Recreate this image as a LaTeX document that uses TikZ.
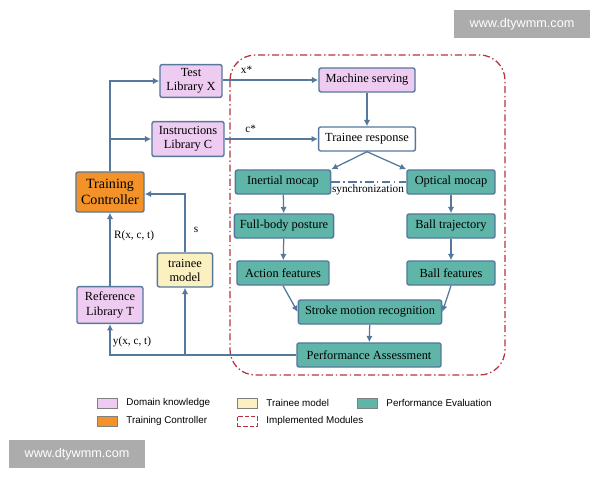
\documentclass[tikz,border=0pt]{standalone}
\usepackage{fontspec}
\setmainfont{Liberation Serif}
\newfontfamily\legendfont{Liberation Sans}
\usetikzlibrary{arrows.meta,positioning,calc}
\definecolor{dompink}{HTML}{EECBF0}
\definecolor{ctrlorange}{HTML}{F39229}
\definecolor{trnyellow}{HTML}{FBF0C0}
\definecolor{evalteal}{HTML}{5FB5A8}
\definecolor{edgeblue}{HTML}{55799C}
\definecolor{modred}{HTML}{B5343C}
\tikzset{
  box/.style={draw=edgeblue, line width=1pt, rounded corners=1.5pt, align=center,
    font=\fontsize{8.8}{10}\selectfont, inner sep=1pt},
  dom/.style={box, fill=dompink},
  evl/.style={box, fill=evalteal, minimum height=0.6cm},
  flow/.style={-{Latex[length=4.5pt,width=4.5pt]}, draw=edgeblue, line width=0.9pt},
  elabel/.style={font=\fontsize{8}{9}\selectfont},
  legtext/.style={font=\legendfont\fontsize{7}{8}\selectfont, anchor=west}
}
\begin{document}
\begin{tikzpicture}[x=0.025cm, y=-0.025cm]
  \useasboundingbox (0,0) rectangle (600,480);
  % implemented modules
  \draw[modred, line width=0.9pt, dash pattern=on 5pt off 2pt on 1pt off 2pt, rounded corners=18pt]
    (230,55) rectangle (505,375);

  % left side
  \node[dom, minimum width=1.55cm, minimum height=0.82cm] (testX) at (191,81) {Test\\Library X};
  \node[dom, minimum width=1.8cm, minimum height=0.87cm] (instrC) at (188,139) {Instructions\\Library C};
  \node[box, fill=ctrlorange, minimum width=1.7cm, minimum height=1cm, font=\fontsize{10}{11.5}\selectfont] (ctrl) at (110,192) {Training\\Controller};
  \node[box, fill=trnyellow, minimum width=1.38cm, minimum height=0.85cm] (trainee) at (185,270) {trainee\\model};
  \node[dom, minimum width=1.65cm, minimum height=0.92cm] (refT) at (110,305) {Reference\\Library T};

  % implemented part
  \node[dom, minimum width=2.4cm, minimum height=0.6cm] (serve) at (367,80) {Machine serving};
  \node[box, fill=white, minimum width=2.42cm, minimum height=0.6cm] (resp) at (367,139) {Trainee response};
  \node[evl, minimum width=2.38cm] (inert) at (283,182) {Inertial mocap};
  \node[evl, minimum width=2.2cm] (optic) at (451,182) {Optical mocap};
  \node[evl, minimum width=2.48cm] (posture) at (284,226) {Full-body posture};
  \node[evl, minimum width=2.2cm] (traj) at (451,226) {Ball trajectory};
  \node[evl, minimum width=2.3cm] (action) at (283,273) {Action features};
  \node[evl, minimum width=2.2cm] (ballf) at (451,273) {Ball features};
  \node[evl, minimum width=3.58cm] (stroke) at (370,312) {Stroke motion recognition};
  \node[evl, minimum width=3.6cm] (perf) at (369,355) {Performance Assessment};

  \coordinate (cTop) at (110,81);
  \coordinate (cMid) at (110,139);
  \coordinate (sTurn) at (185,194);
  \coordinate (yTurn) at (110,355);
  \coordinate (yBranch) at (185,355);

  \draw[flow] (ctrl.north) -- (cTop) -- (testX.west);
  \draw[flow] (cMid) -- (instrC.west);
  \draw[flow] (refT.north) -- (ctrl.south);
  \node[elabel] at (134,236) {R(x, c, t)};
  \draw[flow] (trainee.north) -- (sTurn) -- (ctrl.east |- sTurn);
  \node[elabel] at (196,230) {s};
  \draw[flow] (perf.west) -- (yTurn) -- (refT.south);
  \draw[flow] (yBranch) -- (trainee.south);
  \node[elabel] at (132,342) {y(x, c, t)};

  \draw[flow] (testX.east |- serve) -- node[elabel, above=1pt, pos=0.25] {x*} (serve.west);
  \draw[flow] (instrC.east |- resp) -- node[elabel, above=1pt, pos=0.28] {c*} (resp.west);
  \draw[flow] (serve) -- (resp);
  \draw[flow] (resp.south) -- (inert.north east);
  \draw[flow] (resp.south) -- (optic.north west);
  \draw[edgeblue, line width=0.8pt, dash pattern=on 6pt off 2.5pt on 1pt off 2.5pt] (inert.east) -- (optic.west);
  \node[elabel] at (368,190) {synchronization};
  \draw[flow] (inert) -- (posture);
  \draw[flow] (posture) -- (action);
  \draw[flow] (optic) -- (traj);
  \draw[flow] (traj) -- (ballf);
  \draw[flow] (action.south) -- (stroke.west);
  \draw[flow] (ballf.south) -- (stroke.east);
  \draw[flow] (stroke) -- (perf);

  % legend
  \node[draw=gray, fill=dompink, minimum width=0.5cm, minimum height=0.25cm, inner sep=0] (lgDom) at (107,403) {};
  \node[legtext, right=3pt of lgDom] {Domain knowledge};
  \node[draw=gray, fill=trnyellow, minimum width=0.5cm, minimum height=0.25cm, inner sep=0] (lgTrn) at (247,403) {};
  \node[legtext, right=3pt of lgTrn] {Trainee model};
  \node[draw=gray, fill=evalteal, minimum width=0.5cm, minimum height=0.25cm, inner sep=0] (lgEvl) at (367,403) {};
  \node[legtext, right=3pt of lgEvl] {Performance Evaluation};
  \node[draw=gray, fill=ctrlorange, minimum width=0.5cm, minimum height=0.25cm, inner sep=0] (lgCtl) at (107,421) {};
  \node[legtext, right=3pt of lgCtl] {Training Controller};
  \node[draw=modred, dash pattern=on 3pt off 1.5pt, minimum width=0.5cm, minimum height=0.25cm, inner sep=0] (lgMod) at (247,421) {};
  \node[legtext, right=3pt of lgMod] {Implemented Modules};

  % watermarks
  \node[fill=gray!65, text=white, minimum width=3.4cm, minimum height=0.7cm, font=\legendfont\fontsize{9}{10}\selectfont] (wmTop) at (522,24) {www.dtywmm.com};
  \node[fill=gray!65, text=white, minimum width=3.4cm, minimum height=0.7cm, font=\legendfont\fontsize{9}{10}\selectfont] (wmBot) at (77,454) {www.dtywmm.com};
\end{tikzpicture}
\end{document}
